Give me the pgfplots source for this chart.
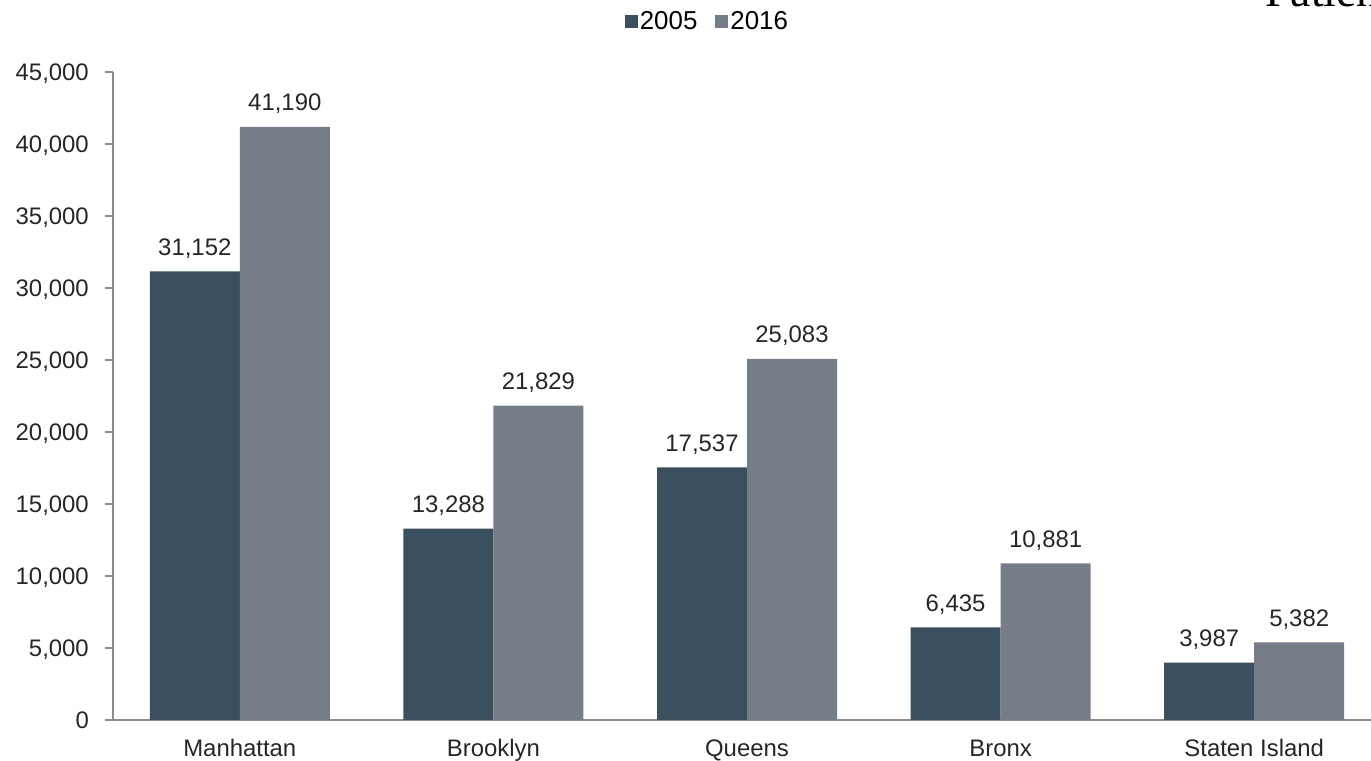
\documentclass[border=0pt]{standalone}
\usepackage{pgfplots}
\pgfplotsset{compat=1.18}
\usepackage{fontspec}
\setmainfont{Liberation Sans}
\newfontfamily\seriffont{Liberation Serif}
\definecolor{c05}{RGB}{59,80,94}
\definecolor{c16}{RGB}{118,125,136}
\definecolor{axgray}{RGB}{140,140,140}
\begin{document}
\begin{tikzpicture}
\begin{axis}[
  scale only axis,
  width=1258bp, height=648bp,
  xmin=-0.5, xmax=4.4606, ymin=0, ymax=45000,
  ybar=0pt, bar width=90bp,
  axis x line=bottom, axis y line=left,
  axis line style={axgray, line width=1.3bp, -},
  every tick/.style={axgray, line width=1.3bp},
  tick align=outside,
  xtick={0,1,2,3,4},
  xticklabels={Manhattan,Brooklyn,Queens,Bronx,Staten Island},
  x tick style={draw=none},
  extra x ticks={0.5,1.5,2.5,3.5},
  extra x tick labels={},
  extra x tick style={major tick length=8bp, x tick style={axgray, line width=1.3bp}},
  major tick length=8bp,
  ytick={0,5000,...,45000},
  scaled y ticks=false,
  yticklabel={\pgfmathprintnumber[1000 sep={,},fixed]{\tick}},
  /pgf/number format/assume math mode=true,
  tick label style={font=\fontsize{24}{28}\selectfont, text=black!85},
  yticklabel style={anchor=base east, inner sep=0pt, xshift=-16bp, yshift=-8.5bp},
  xticklabel style={anchor=base, inner sep=0pt, yshift=-28.5bp},
  nodes near coords={\pgfmathprintnumber[1000 sep={,},fixed,assume math mode=true]{\pgfplotspointmeta}},
  every node near coord/.append style={font=\fontsize{24}{28}\selectfont, text=black!85, anchor=base, inner sep=0pt, yshift=16bp},
  legend style={at={(0.4725,1.078)}, anchor=center, draw=none, fill=none,
    font=\fontsize{26}{30}\selectfont, legend columns=2,
    /tikz/every even column/.append style={column sep=16bp},
    legend cell align=left, inner sep=0pt},
  legend image code/.code={\fill[#1] (0bp,-6.5bp) rectangle (13bp,6.5bp);},
  clip=false,
]
\addplot[fill=c05, draw=none] coordinates {(0,31152) (1,13288) (2,17537) (3,6435) (4,3987)};
\addplot[fill=c16, draw=none] coordinates {(0,41190) (1,21829) (2,25083) (3,10881) (4,5382)};
\legend{2005,2016}
\coordinate (O) at (rel axis cs:0,0);
\coordinate (NE) at (rel axis cs:1,1);
\end{axis}
\node[anchor=base west, inner sep=0pt, font=\seriffont\fontsize{46}{48}\selectfont] at ([xshift=1152bp, yshift=713bp]O) {Patients};
\pgfresetboundingbox
\path[use as bounding box] ([xshift=-113bp,yshift=-41bp]O) rectangle ([yshift=72bp]NE);
\end{tikzpicture}
\end{document}
